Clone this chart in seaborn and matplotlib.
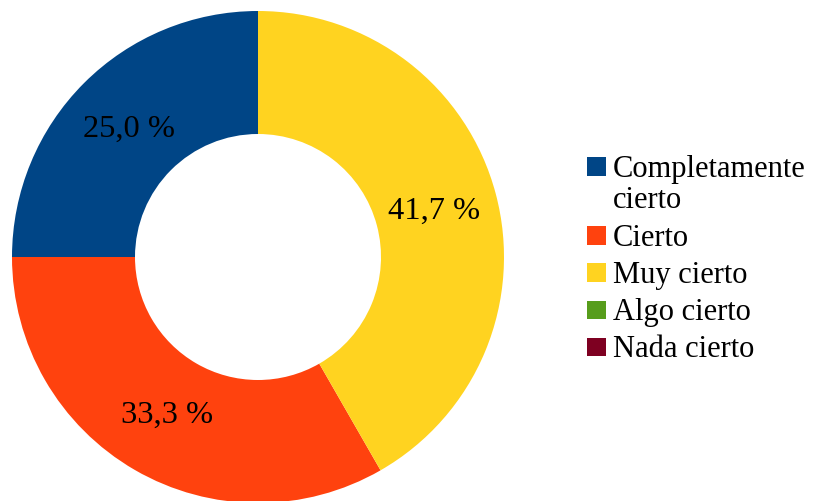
import matplotlib
matplotlib.use("Agg")
import matplotlib.pyplot as plt
import matplotlib.patches as mpatches
from matplotlib.transforms import IdentityTransform
import seaborn as sns

categories = ["Completamente\ncierto", "Cierto", "Muy cierto", "Algo cierto", "Nada cierto"]
values = [25.0, 33.3, 41.7, 0.0, 0.0]
colors = ["#004586", "#ff420e", "#ffd320", "#579d1c", "#7e0021"]

sns.set_theme(style="white")
plt.rcParams["font.family"] = ["Liberation Serif", "DejaVu Serif"]

W, H = 813, 502
fig = plt.figure(figsize=(W / 100, H / 100), dpi=100)
cx, cy, R = 258, 258, 246
ax = fig.add_axes([(cx - R) / W, (H - cy - R) / H, 2 * R / W, 2 * R / H])

palette = sns.color_palette(colors)
nz = [(v, c) for v, c in zip(values, palette) if v > 0]
wedges, texts, autotexts = ax.pie(
    [v for v, _ in nz],
    colors=[c for _, c in nz],
    startangle=90,
    counterclock=True,
    radius=1.0,
    wedgeprops=dict(width=0.5, linewidth=0),
    autopct=lambda p: f"{p:.1f} %".replace(".", ","),
    pctdistance=0.74,
    textprops=dict(fontsize=23.4, color="black"),
)
ax.set_xlim(-1, 1)
ax.set_ylim(-1, 1)
ax.set_aspect("equal")
ax.axis("off")

# legend (drawn manually to match wrapped-label layout)
leg_fs = 22
line_gap = 31.7
entry_gap = 37.3
sq = 18.5
x_sq, x_txt = 587, 613
baseline = 176.5
for label, col in zip(categories, palette):
    lines = label.split("\n")
    fig.add_artist(mpatches.Rectangle((x_sq, H - baseline), sq, sq,
                                      facecolor=col, edgecolor="none",
                                      transform=IdentityTransform()))
    for i, ln in enumerate(lines):
        fig.text(x_txt / W, 1 - (baseline + i * line_gap) / H, ln,
                 fontsize=leg_fs, ha="left", va="baseline", color="black")
    baseline += (len(lines) - 1) * line_gap + entry_gap

fig.savefig("out.png", dpi=100)
